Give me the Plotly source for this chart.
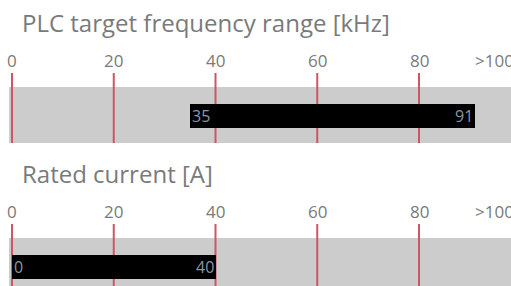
import plotly.graph_objects as go

# ---- data ----
panel_titles = ["PLC target frequency range [kHz]", "Rated current [A]"]
range_starts = [35, 0]
range_ends = [91, 40]
tick_values = [0, 20, 40, 60, 80, 100]
tick_labels = ["0", "20", "40", "60", "80", ">100"]

# ---- layout (window-pixel vertical positions per panel) ----
W, H = 511, 286
panel_offsets = [0, 151]
title_y, tick_y = 22, 60
line_top, band_top, band_bot = 73, 87, 143
bar_center, bar_h = 116, 24
band_left_px = 9

GREY_TXT = "#7a7a7a"
RED = "#d05563"
BAND = "#cccccc"
FONT = "Open Sans"

px_per_unit = (419 - 12) / 80.0
zero_px = 12
x0 = -zero_px / px_per_unit
x1 = (W - zero_px) / px_per_unit


def to_paper(v):
    return (zero_px + v * px_per_unit) / W


fig = go.Figure()
shapes = []
annotations = []

for i, (title, s, e) in enumerate(zip(panel_titles, range_starts, range_ends)):
    off = panel_offsets[i]
    last = i == len(panel_titles) - 1
    bb = band_bot + off + (20 if last else 0)
    shapes.append(dict(type="rect", xref="paper", x0=band_left_px / W, x1=1, yref="y",
                       y0=band_top + off, y1=bb, fillcolor=BAND,
                       line=dict(width=0), layer="below"))
    for tv in tick_values[:-1]:
        shapes.append(dict(type="line", xref="x", x0=tv, x1=tv, yref="y",
                           y0=line_top + off, y1=bb,
                           line=dict(color=RED, width=2), layer="below"))
    for tv, tl in zip(tick_values, tick_labels):
        if tl.startswith(">"):
            annotations.append(dict(x=to_paper(tv), y=tick_y + off, xref="paper", yref="y",
                                    text=tl, showarrow=False, xanchor="left",
                                    xshift=-48,
                                    font=dict(family=FONT, size=17, color=GREY_TXT)))
        else:
            annotations.append(dict(x=tv, y=tick_y + off, xref="x", yref="y",
                                    text=tl, showarrow=False, xanchor="center",
                                    font=dict(family=FONT, size=17, color=GREY_TXT)))
    annotations.append(dict(x=0, y=title_y + off, xref="paper", yref="y",
                            text=title, showarrow=False, xanchor="left",
                            xshift=20,
                            font=dict(family=FONT, size=24, color=GREY_TXT)))
    fig.add_trace(go.Bar(
        x=[e - s], base=[s], y=[bar_center + off], width=[bar_h],
        orientation="h", marker=dict(color="black", line=dict(width=0)),
        showlegend=False, hoverinfo="skip"))
    annotations.append(dict(x=s, y=bar_center + off, xref="x", yref="y",
                            text=str(s), showarrow=False, xanchor="left", xshift=0,
                            font=dict(family=FONT, size=16, color="#8a96a8")))
    annotations.append(dict(x=e, y=bar_center + off, xref="x", yref="y",
                            text=str(e), showarrow=False, xanchor="right", xshift=0,
                            font=dict(family=FONT, size=16, color="#8a96a8")))

fig.update_layout(
    width=W, height=H,
    margin=dict(l=0, r=0, t=0, b=0),
    paper_bgcolor="white", plot_bgcolor="white",
    xaxis=dict(range=[x0, x1], visible=False, fixedrange=True),
    yaxis=dict(range=[H, 0], visible=False, fixedrange=True),
    shapes=shapes, annotations=annotations,
    bargap=0,
)

fig.write_html(
    "out.html",
    config={"displayModeBar": False},
    post_script="document.body.style.margin='0';"
                "document.documentElement.style.overflow='hidden';",
)
